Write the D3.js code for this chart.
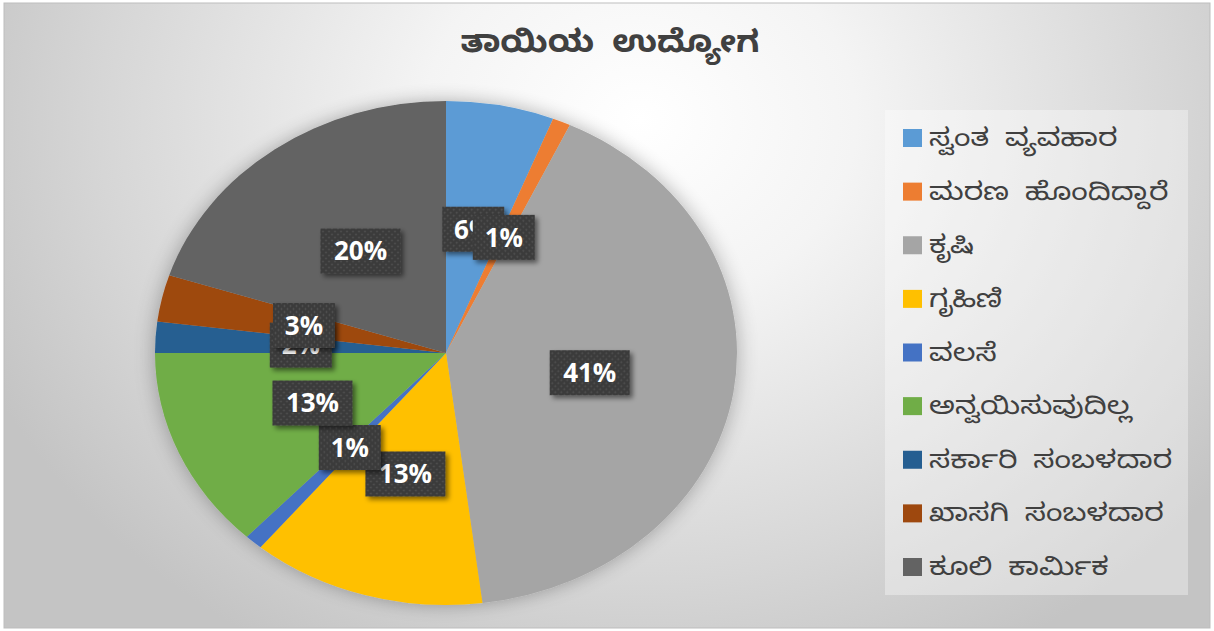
<!DOCTYPE html>
<html>
<head>
<meta charset="utf-8">
<script src="https://cdn.jsdelivr.net/npm/d3@7"></script>
<style>
  html, body { margin: 0; padding: 0; background: #fff; }
  svg { display: block; }
  .kn { font-family: "Noto Sans Kannada", "Noto Serif Kannada", "Lohit Kannada", "Tunga", "Noto Sans", sans-serif; }
  .lbl { font-family: "Open Sans", "Noto Sans", sans-serif; font-weight: 700; }
</style>
</head>
<body>
<div id="chart"></div>
<script>
// data
const categories = ["ಸ್ವಂತ ವ್ಯವಹಾರ", "ಮರಣ ಹೊಂದಿದ್ದಾರೆ", "ಕೃಷಿ", "ಗೃಹಿಣಿ", "ವಲಸೆ",
                    "ಅನ್ವಯಿಸುವುದಿಲ್ಲ", "ಸರ್ಕಾರಿ ಸಂಬಳದಾರ", "ಖಾಸಗಿ ಸಂಬಳದಾರ", "ಕೂಲಿ ಕಾರ್ಮಿಕ"];
const values = [6, 1, 41, 13, 1, 13, 2, 3, 20];
const colors = ["#5B9BD5", "#ED7D31", "#A5A5A5", "#FFC000", "#4472C4",
                "#70AD47", "#255E91", "#9E480E", "#636363"];
const title = "ತಾಯಿಯ ಉದ್ಯೋಗ";

const width = 1214, height = 631;
const cx = 446, cy = 353, rx = 291, ry = 252;

const svg = d3.select("#chart")
  .append("svg")
    .attr("width", width)
    .attr("height", height);

const defs = svg.append("defs");

// background gradient
const bg = defs.append("radialGradient")
    .attr("id", "bg")
    .attr("gradientUnits", "userSpaceOnUse")
    .attr("cx", 640).attr("cy", 120).attr("r", 720)
    .attr("gradientTransform", "translate(640,120) scale(1,0.85) translate(-640,-120)");
bg.append("stop").attr("offset", "0%").attr("stop-color", "#ffffff");
bg.append("stop").attr("offset", "30%").attr("stop-color", "#f4f4f4");
bg.append("stop").attr("offset", "75%").attr("stop-color", "#d6d6d6");
bg.append("stop").attr("offset", "100%").attr("stop-color", "#c4c4c4");

// pie glow
const glow = defs.append("filter").attr("id", "glow")
    .attr("x", "-20%").attr("y", "-20%").attr("width", "140%").attr("height", "140%");
glow.append("feGaussianBlur").attr("in", "SourceAlpha").attr("stdDeviation", 9).attr("result", "b");
glow.append("feComponentTransfer").attr("in", "b").attr("result", "s")
  .append("feFuncA").attr("type", "linear").attr("slope", 0.3);
const gm = glow.append("feMerge");
gm.append("feMergeNode").attr("in", "s");
gm.append("feMergeNode").attr("in", "SourceGraphic");

// label box shadow
const sh = defs.append("filter").attr("id", "sh")
    .attr("x", "-20%").attr("y", "-20%").attr("width", "150%").attr("height", "150%");
sh.append("feGaussianBlur").attr("in", "SourceAlpha").attr("stdDeviation", 2.5).attr("result", "b");
sh.append("feOffset").attr("in", "b").attr("dx", 3).attr("dy", 3).attr("result", "o");
sh.append("feComponentTransfer").attr("in", "o").attr("result", "s")
  .append("feFuncA").attr("type", "linear").attr("slope", 0.5);
const sm = sh.append("feMerge");
sm.append("feMergeNode").attr("in", "s");
sm.append("feMergeNode").attr("in", "SourceGraphic");

// dotted label fill
const pat = defs.append("pattern").attr("id", "dots")
    .attr("patternUnits", "userSpaceOnUse").attr("width", 6).attr("height", 6);
pat.append("rect").attr("width", 6).attr("height", 6).attr("fill", "#3a3a3a");
pat.append("circle").attr("cx", 1.5).attr("cy", 1.5).attr("r", 0.9).attr("fill", "#555");
pat.append("circle").attr("cx", 4.5).attr("cy", 4.5).attr("r", 0.9).attr("fill", "#555");

// frame
svg.append("rect").attr("x", 4).attr("y", 3).attr("width", width - 8).attr("height", height - 6)
  .attr("fill", "url(#bg)").attr("stroke", "#bdbdbd").attr("stroke-width", 1);

// title (stretched a little to match the wider original face)
svg.append("g")
    .attr("transform", "translate(610,52) scale(1.08,1)")
  .append("text")
    .attr("class", "kn")
    .attr("text-anchor", "middle")
    .attr("font-size", 31)
    .attr("font-weight", 700)
    .attr("word-spacing", 8)
    .attr("fill", "#404040")
    .text(title);

// pie
const pie = d3.pie().sort(null).value(d => d);
const arcs = pie(values);
const arc = d3.arc().innerRadius(0).outerRadius(ry);

svg.append("g")
    .attr("transform", `translate(${cx},${cy}) scale(${rx / ry},1)`)
    .attr("filter", "url(#glow)")
  .selectAll("path")
  .data(arcs)
  .join("path")
    .attr("d", arc)
    .attr("fill", (d, i) => colors[i])
    .attr("stroke", "none");

// data labels
const labelArc = d3.arc().innerRadius(ry * 0.5).outerRadius(ry * 0.5);
const labels = svg.append("g");
arcs.forEach(function(d, i) {
  const c = labelArc.centroid(d);
  const x = cx + c[0] * rx / ry, y = cy + c[1];
  const txt = values[i] + "%";
  const w = txt.length === 2 ? 62 : 80, h = 45;
  const g = labels.append("g").attr("transform", `translate(${x},${y})`);
  g.append("rect")
    .attr("x", -w / 2).attr("y", -h / 2).attr("width", w).attr("height", h)
    .attr("fill", "url(#dots)")
    .attr("filter", "url(#sh)");
  g.append("text")
    .attr("class", "lbl")
    .attr("text-anchor", "middle")
    .attr("dy", "0.36em")
    .attr("font-size", 26)
    .attr("fill", "#ffffff")
    .text(txt);
});

// legend
svg.append("rect")
  .attr("x", 885).attr("y", 110).attr("width", 303).attr("height", 485)
  .attr("fill", "#ffffff").attr("fill-opacity", 0.35);

const ly = d3.scalePoint().domain(categories).range([138, 567]);
const legend = svg.append("g").selectAll("g")
  .data(categories)
  .join("g")
    .attr("transform", d => `translate(903,${ly(d)})`);
legend.append("rect")
  .attr("x", 0).attr("y", -9).attr("width", 19).attr("height", 18)
  .attr("fill", (d, i) => colors[i]);
legend.append("g")
    .attr("transform", "translate(26,0) scale(1.2,1)")
  .append("text")
    .attr("class", "kn")
    .attr("dy", "0.32em")
    .attr("font-size", 25)
    .attr("word-spacing", 6)
    .attr("fill", "#404040")
    .text(d => d);
</script>
</body>
</html>
